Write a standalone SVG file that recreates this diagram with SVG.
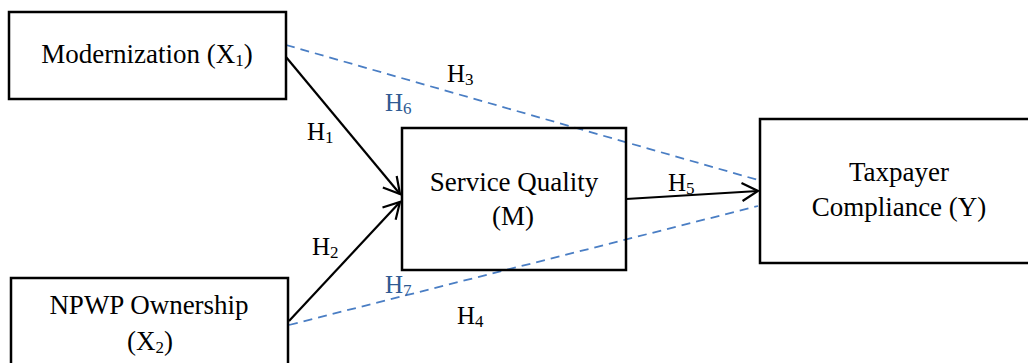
<svg xmlns="http://www.w3.org/2000/svg" width="1028" height="363" viewBox="0 0 1028 363">
  <style>
    .box { fill: none; stroke: #000000; stroke-width: 2.5; }
    .lbl { font-family: "Liberation Serif", "Times New Roman", serif; font-size: 27px; fill: #000000; text-anchor: middle; }
    .hyp { font-family: "Liberation Serif", "Times New Roman", serif; font-size: 25px; fill: #000000; }
    .hyp-ind { fill: #2f5a93; }
    .sub { font-size: 17px; }
    .direct { stroke: #000000; stroke-width: 2.2; fill: none; marker-end: url(#arrow); }
    .indirect { stroke: #4a7ec4; stroke-width: 1.8; fill: none; stroke-dasharray: 9 6; }
  </style>
  <defs>
    <marker id="arrow" markerUnits="userSpaceOnUse" markerWidth="24" markerHeight="24" refX="18" refY="12" orient="auto" viewBox="0 0 24 24">
      <path d="M2,3 L18,12 L2,21" fill="none" stroke="#000000" stroke-width="2.2"/>
    </marker>
  </defs>

  <rect width="1028" height="363" fill="#ffffff"/>

  <!-- connectors: direct effects (solid) and mediated effects (dashed) -->
  <g id="connectors">
    <line class="indirect" x1="286" y1="45" x2="758" y2="180"/>
    <line class="indirect" x1="289" y1="325" x2="758" y2="206"/>
    <line class="direct" x1="286" y1="57" x2="400" y2="194"/>
    <line class="direct" x1="289" y1="321" x2="400" y2="202"/>
    <line class="direct" x1="626" y1="199" x2="758" y2="191"/>
  </g>

  <!-- hypothesis labels -->
  <g id="hypotheses">
    <text class="hyp" x="307" y="140">H<tspan class="sub" dy="3">1</tspan></text>
    <text class="hyp" x="312" y="255">H<tspan class="sub" dy="3">2</tspan></text>
    <text class="hyp" x="447" y="82">H<tspan class="sub" dy="3">3</tspan></text>
    <text class="hyp" x="457" y="324">H<tspan class="sub" dy="3">4</tspan></text>
    <text class="hyp" x="668" y="191">H<tspan class="sub" dy="3">5</tspan></text>
    <text class="hyp hyp-ind" x="385" y="111">H<tspan class="sub" dy="3">6</tspan></text>
    <text class="hyp hyp-ind" x="385" y="293">H<tspan class="sub" dy="3">7</tspan></text>
  </g>

  <g id="node-modernization">
    <rect class="box" x="9" y="12" width="277" height="87"/>
    <text class="lbl" x="147" y="63">Modernization (X<tspan class="sub" dy="3">1</tspan><tspan dy="-3">)</tspan></text>
  </g>

  <g id="node-npwp">
    <rect class="box" x="11" y="278" width="277" height="95"/>
    <text class="lbl" x="149" y="314">NPWP Ownership</text>
    <text class="lbl" x="150" y="350">(X<tspan class="sub" dy="3">2</tspan><tspan dy="-3">)</tspan></text>
  </g>

  <g id="node-service-quality">
    <rect class="box" x="402" y="128" width="224" height="142"/>
    <text class="lbl" x="514" y="191">Service Quality</text>
    <text class="lbl" x="513" y="225">(M)</text>
  </g>

  <g id="node-compliance">
    <rect class="box" x="760" y="119" width="280" height="144"/>
    <text class="lbl" x="899" y="181">Taxpayer</text>
    <text class="lbl" x="899" y="216">Compliance (Y)</text>
  </g>
</svg>
